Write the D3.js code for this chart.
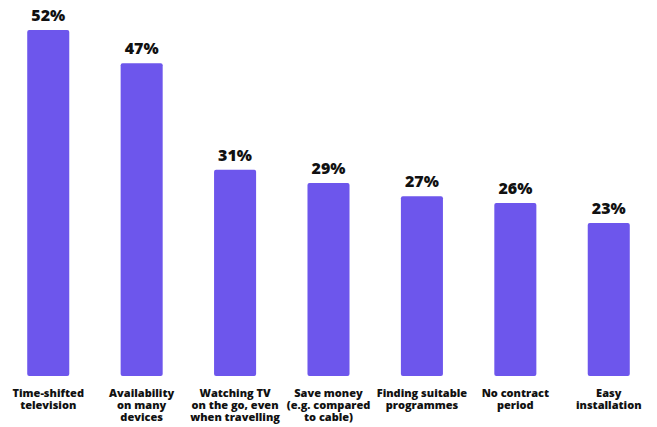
<!DOCTYPE html>
<html>
<head>
<meta charset="utf-8">
<script src="https://cdn.jsdelivr.net/npm/d3@7.9.0/dist/d3.min.js"></script>
<style>
  body { margin: 0; background: #fff; }
  text { font-family: "Open Sans", Roboto, sans-serif; font-weight: 800; fill: #111; }
</style>
</head>
<body>
<svg id="chart" width="657" height="427"></svg>
<script>
// categories (each label split into lines) and values
const categories = [
  ['Time-shifted', 'television'],
  ['Availability', 'on many', 'devices'],
  ['Watching TV', 'on the go, even', 'when travelling'],
  ['Save money', '(e.g. compared', 'to cable)'],
  ['Finding suitable', 'programmes'],
  ['No contract', 'period'],
  ['Easy', 'installation'],
];
const values = [52, 47, 31, 29, 27, 26, 23];

const svg = d3.select('#chart');
const baseY = 376;

const x = d3.scaleBand()
  .domain(d3.range(values.length))
  .range([2, 655])
  .paddingInner(0.55)
  .paddingOuter(0.27);

const y = d3.scaleLinear()
  .domain([0, 52])
  .range([baseY, 30]);

// bars
svg.selectAll('rect.bar')
  .data(values)
  .enter()
  .append('rect')
  .attr('class', 'bar')
  .attr('x', (d, i) => x(i))
  .attr('y', d => y(d))
  .attr('width', x.bandwidth())
  .attr('height', d => baseY - y(d))
  .attr('rx', 2)
  .attr('fill', '#6d56ec');

// value labels
svg.selectAll('text.val')
  .data(values)
  .enter()
  .append('text')
  .attr('class', 'val')
  .attr('x', (d, i) => x(i) + x.bandwidth() / 2)
  .attr('y', d => y(d) - 9)
  .attr('text-anchor', 'middle')
  .style('font-size', '16px')
  .text(d => `${d}%`);

// category labels
const cat = svg.selectAll('text.cat')
  .data(categories)
  .enter()
  .append('text')
  .attr('class', 'cat')
  .attr('text-anchor', 'middle')
  .style('font-size', '11px');

cat.each(function (lines, i) {
  d3.select(this)
    .selectAll('tspan')
    .data(lines)
    .enter()
    .append('tspan')
    .attr('x', x(i) + x.bandwidth() / 2)
    .attr('y', (d, j) => 397 + j * 12)
    .text(d => d);
});
</script>
</body>
</html>
